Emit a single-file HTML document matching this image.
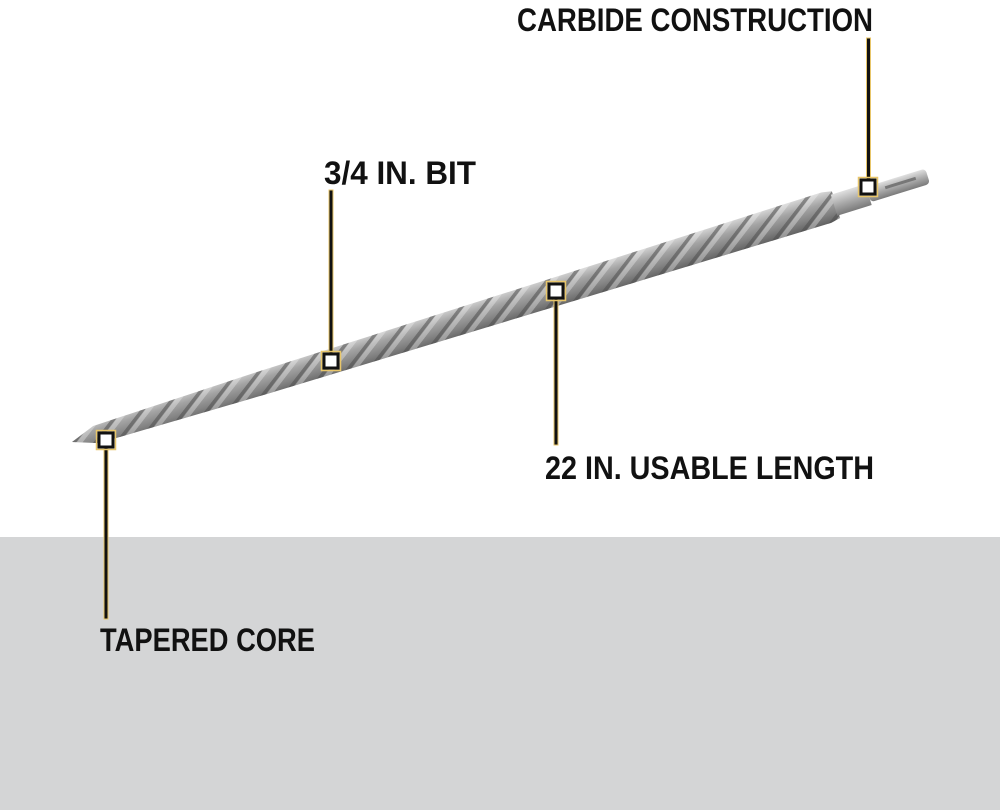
<!DOCTYPE html>
<html><head><style>
html,body{margin:0;padding:0;width:1000px;height:810px;overflow:hidden;background:#fff}
svg{display:block}
text{font-family:"Liberation Sans",sans-serif;font-weight:bold;fill:#111}
</style></head><body>
<svg width="1000" height="810" viewBox="0 0 1000 810">
<defs>
<linearGradient id="g" x1="0" y1="0" x2="0" y2="1">
<stop offset="0" stop-color="#d6d6d6"/><stop offset="0.35" stop-color="#a4a4a4"/><stop offset="0.7" stop-color="#838383"/><stop offset="1" stop-color="#626262"/></linearGradient>
<linearGradient id="s" x1="0" y1="0" x2="0" y2="1">
<stop offset="0" stop-color="#e0e0e0"/><stop offset="0.5" stop-color="#ababab"/><stop offset="1" stop-color="#7a7a7a"/></linearGradient>
<pattern id="fl" width="30" height="40" patternUnits="userSpaceOnUse" patternTransform="skewX(-55)">
<rect x="0" y="0" width="6" height="40" fill="#4e4e4e" opacity="0.55"/>
<rect x="7" y="0" width="8" height="40" fill="#f2f2f2" opacity="0.35"/>
</pattern>
</defs>
<rect x="0" y="537" width="1000" height="273" fill="#d4d5d6"/>
<g transform="translate(72,442) rotate(-17.26)">
<path d="M0,0 L25,-9 L200,-12 L790,-16 L800,-14 L800,14 L790,16 L200,12 L25,9 Z" fill="url(#g)"/>
<path d="M0,0 L25,-9 L200,-12 L790,-16 L800,-14 L800,14 L790,16 L200,12 L25,9 Z" fill="url(#fl)"/>
<rect x="798" y="-11" width="36" height="22" fill="url(#s)"/>
<rect x="834" y="-8" width="62" height="16" rx="4" fill="url(#s)"/>
<rect x="852" y="-3" width="32" height="3" fill="#777"/>
</g>
<g fill="#111" stroke="#e8c66a" stroke-width="1">
<rect x="866.5" y="38" width="4" height="142"/>
<rect x="329" y="190" width="4" height="164"/>
<rect x="554" y="298" width="4" height="147"/>
<rect x="104" y="447" width="4" height="172"/>
</g>
<g fill="#fff" stroke="#111" stroke-width="3">
<rect x="861" y="180" width="14" height="14"/>
<rect x="324" y="354" width="14" height="14"/>
<rect x="549" y="284" width="14" height="14"/>
<rect x="99" y="433" width="14" height="14"/>
</g>
<g fill="none" stroke="#e8c66a" stroke-width="1.5">
<rect x="858.5" y="177.5" width="19" height="19"/>
<rect x="321.5" y="351.5" width="19" height="19"/>
<rect x="546.5" y="281.5" width="19" height="19"/>
<rect x="96.5" y="430.5" width="19" height="19"/>
</g>
<text x="517" y="31" font-size="32" textLength="356" lengthAdjust="spacingAndGlyphs">CARBIDE CONSTRUCTION</text>
<text x="324" y="184" font-size="32" textLength="152" lengthAdjust="spacingAndGlyphs">3/4 IN. BIT</text>
<text x="545" y="479" font-size="32" textLength="329" lengthAdjust="spacingAndGlyphs">22 IN. USABLE LENGTH</text>
<text x="100" y="651" font-size="32" textLength="215" lengthAdjust="spacingAndGlyphs">TAPERED CORE</text>
</svg>
</body></html>
